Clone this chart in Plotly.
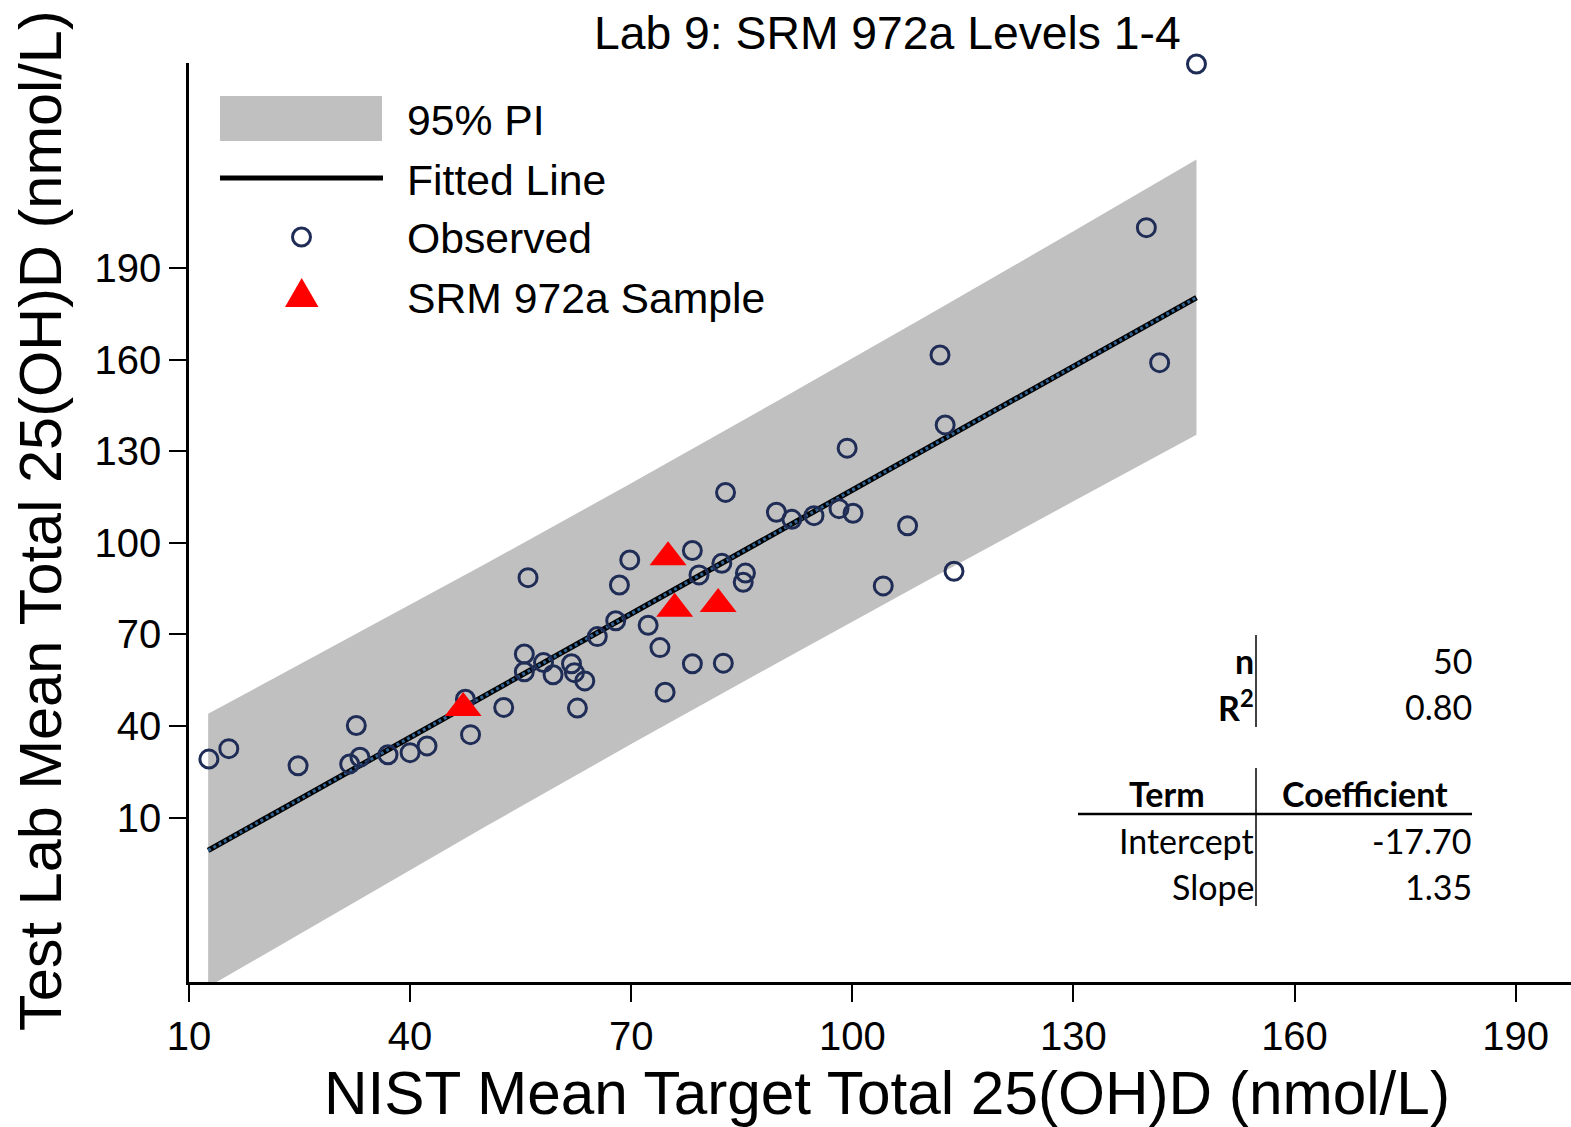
import plotly.graph_objects as go

W, H = 1571, 1127
L, R, T, B = 189, 0, 63, 145
PW, PH = W - L - R, H - T - B

# ---------------- data ----------------
obs_x = [12.7, 15.4, 24.8, 32.7, 31.8, 33.2, 37.0, 40.0, 42.3, 48.2,
         47.5, 52.7, 55.5, 55.5, 56.0, 58.1, 59.4, 61.9, 62.3, 63.7,
         62.7, 65.4, 67.9, 68.4, 69.8, 72.3, 73.9, 74.6, 78.3, 79.2,
         82.3, 85.5, 85.2, 78.3, 82.5, 82.8, 99.3, 112.6, 89.7, 91.8,
         94.8, 98.2, 100.1, 107.5, 104.2, 113.8, 111.9, 146.7, 139.9, 141.7]
obs_y = [29.2, 32.6, 27.0, 40.2, 27.6, 29.8, 30.6, 31.3, 33.5, 37.2,
         48.8, 46.1, 63.6, 57.8, 88.6, 60.8, 56.8, 60.4, 57.5, 54.8,
         45.9, 69.3, 74.5, 86.2, 94.4, 73.0, 65.7, 51.1, 97.5, 89.5,
         93.3, 90.1, 87.1, 60.4, 60.6, 116.5, 131.0, 138.6, 110.0, 107.7,
         108.9, 111.2, 109.7, 105.6, 85.9, 90.7, 161.5, 256.8, 203.2, 159.0]

srm_x = [47.2, 75.0, 75.9, 81.8]
srm_y = [45.9, 95.3, 78.4, 80.0]

fit_x = [12.6, 146.7]
fit_y = [-0.7, 180.3]

pi_x = [12.6, 30, 50, 70, 90, 110, 130, 146.7]
pi_upper = [44.0, 66.6, 92.8, 119.5, 146.7, 174.2, 202.0, 225.5]
pi_lower = [-45.4, -21.0, 6.8, 34.1, 60.9, 87.4, 113.6, 135.4]

x_ticks = [10, 40, 70, 100, 130, 160, 190]
y_ticks = [10, 40, 70, 100, 130, 160, 190]

stat_labels = ["<b>n</b>", "<b>R<sup>2</sup></b>"]
stat_values = ["50", "0.80"]
coef_header = ["<b>Term</b>", "<b>Coefficient</b>"]
coef_terms = ["Intercept", "Slope"]
coef_values = ["-17.70", "1.35"]

legend_labels = ["95% PI", "Fitted Line", "Observed", "SRM 972a Sample"]

title_text = "Lab 9: SRM 972a Levels 1-4"
x_title = "NIST Mean Target Total 25(OH)D (nmol/L)"
y_title = "Test Lab Mean Total 25(OH)D (nmol/L)"

# ---------------- styles ----------------
NAVY = "#1F2D56"
GRAY = "#C0C0C0"
RED = "#FF0000"
DOT_BLUE = "#2F6496"
ARIAL = "Liberation Sans, Arial, sans-serif"
CAL = "Lato, Carlito, Calibri, sans-serif"


def px(x):
    return (x - L) / PW


def py(y):
    return (H - B - y) / PH


fig = go.Figure()

# prediction band
fig.add_trace(go.Scatter(
    x=pi_x + pi_x[::-1], y=pi_upper + pi_lower[::-1],
    fill="toself", fillcolor=GRAY, line=dict(width=0),
    mode="lines", hoverinfo="skip", showlegend=False))

# fitted line: thick black with blue dotted overlay
fig.add_trace(go.Scatter(x=fit_x, y=fit_y, mode="lines",
                         line=dict(color="black", width=5.5), showlegend=False))
fig.add_trace(go.Scatter(x=fit_x, y=fit_y, mode="lines",
                         line=dict(color=DOT_BLUE, width=3, dash="dot"), showlegend=False))

# observed
fig.add_trace(go.Scatter(x=obs_x, y=obs_y, mode="markers", cliponaxis=False,
                         marker=dict(symbol="circle-open", size=18, color=NAVY,
                                     line=dict(width=3, color=NAVY)),
                         showlegend=False))
# SRM samples
fig.add_trace(go.Scatter(x=srm_x, y=srm_y, mode="markers", cliponaxis=False,
                         marker=dict(symbol="triangle-up", size=32, color=RED,
                                     line=dict(width=0)),
                         showlegend=False))

shapes = []
annotations = []

# ----- legend (drawn manually) -----
shapes.append(dict(type="rect", xref="paper", yref="paper",
                   x0=px(220), x1=px(382), y0=py(141), y1=py(96),
                   fillcolor=GRAY, line=dict(width=0)))
shapes.append(dict(type="line", xref="paper", yref="paper",
                   x0=px(220), x1=px(383), y0=py(178), y1=py(178),
                   line=dict(color="black", width=5)))
shapes.append(dict(type="circle", xref="paper", yref="paper",
                   x0=px(301.5 - 9), x1=px(301.5 + 9),
                   y0=py(237 + 9), y1=py(237 - 9),
                   line=dict(color=NAVY, width=3)))
tri = "M {a},{b} L {c},{d} L {e},{f} Z".format(
    a=px(285), b=py(307), c=px(318.5), d=py(307), e=px(301.7), f=py(278))
shapes.append(dict(type="path", xref="paper", yref="paper", path=tri,
                   fillcolor=RED, line=dict(width=0)))

for lab, yc in zip(legend_labels, [120, 180, 238, 298]):
    annotations.append(dict(text=lab, xref="paper", yref="paper",
                            x=px(405), y=py(yc), xanchor="left", yanchor="middle",
                            showarrow=False, font=dict(family=ARIAL, size=42.7, color="black")))

# ----- statistics table -----
VX = 1256
shapes.append(dict(type="line", xref="paper", yref="paper",
                   x0=px(VX), x1=px(VX), y0=py(635), y1=py(727),
                   line=dict(color="black", width=1.5)))
shapes.append(dict(type="line", xref="paper", yref="paper",
                   x0=px(VX), x1=px(VX), y0=py(768), y1=py(906),
                   line=dict(color="black", width=1.5)))
shapes.append(dict(type="line", xref="paper", yref="paper",
                   x0=px(1078), x1=px(1472), y0=py(814), y1=py(814),
                   line=dict(color="black", width=2.5)))

tfont = dict(family=CAL, size=34, color="black")
LX, RX = 1256, 1474
for lab, val, yc in zip(stat_labels, stat_values, [660, 706]):
    annotations.append(dict(text=lab, xref="paper", yref="paper", x=px(LX), y=py(yc),
                            xanchor="right", yanchor="middle", showarrow=False, font=tfont))
    annotations.append(dict(text=val, xref="paper", yref="paper", x=px(RX), y=py(yc),
                            xanchor="right", yanchor="middle", showarrow=False, font=tfont))
annotations.append(dict(text=coef_header[0], xref="paper", yref="paper", x=px(1167), y=py(793),
                        xanchor="center", yanchor="middle", showarrow=False, font=tfont))
annotations.append(dict(text=coef_header[1], xref="paper", yref="paper", x=px(1365), y=py(793),
                        xanchor="center", yanchor="middle", showarrow=False, font=tfont))
for lab, val, yc in zip(coef_terms, coef_values, [840, 886]):
    annotations.append(dict(text=lab, xref="paper", yref="paper", x=px(LX), y=py(yc),
                            xanchor="right", yanchor="middle", showarrow=False, font=tfont))
    annotations.append(dict(text=val, xref="paper", yref="paper", x=px(RX), y=py(yc),
                            xanchor="right", yanchor="middle", showarrow=False, font=tfont))

# ----- titles -----
annotations.append(dict(text=title_text, xref="paper", yref="paper", x=px(887), y=py(33),
                        xanchor="center", yanchor="middle", showarrow=False,
                        font=dict(family=ARIAL, size=46.3, color="black")))
annotations.append(dict(text=x_title, xref="paper", yref="paper", x=px(887), y=py(1093),
                        xanchor="center", yanchor="middle", showarrow=False,
                        font=dict(family=ARIAL, size=60.3, color="black")))
annotations.append(dict(text=y_title, xref="paper", yref="paper", x=px(40), y=py(521),
                        xanchor="center", yanchor="middle", textangle=-90, showarrow=False,
                        font=dict(family=ARIAL, size=59.5, color="black")))

fig.update_layout(
    width=W, height=H,
    margin=dict(l=L, r=R, t=T, b=B, pad=0),
    paper_bgcolor="white", plot_bgcolor="white",
    showlegend=False,
    shapes=shapes, annotations=annotations,
    xaxis=dict(range=[10, 10 + PW / 7.37], tickvals=x_ticks, ticks="outside",
               ticklen=17, tickwidth=2, tickcolor="black",
               showline=True, linecolor="black", linewidth=2.5,
               showgrid=False, zeroline=False,
               tickfont=dict(family=ARIAL, size=40, color="black")),
    yaxis=dict(range=[-43.8, -43.8 + PH / 3.054], tickvals=y_ticks, ticks="outside",
               ticklen=17, tickwidth=2, tickcolor="black",
               showline=True, linecolor="black", linewidth=2.5,
               showgrid=False, zeroline=False,
               tickfont=dict(family=ARIAL, size=40, color="black")),
)

fig.write_html("out.html")
